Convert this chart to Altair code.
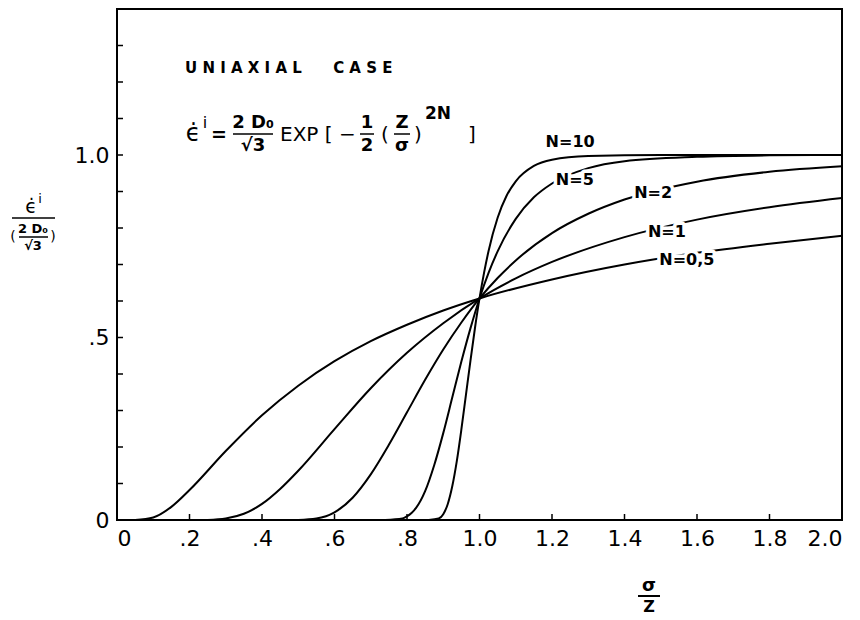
import altair as alt
import pandas as pd

FONT = "DejaVu Sans"

# ---- series (x = sigma/Z, y = normalised strain rate) ----
n_labels = ["N=0,5", "N=1", "N=2", "N=5", "N=10"]

x_n05 = [0.05, 0.1, 0.15, 0.2, 0.3, 0.4, 0.5, 0.6, 0.7, 0.8, 0.9, 1.0, 1.2, 1.4, 1.6, 1.8, 2.0]
y_n05 = [0.0, 0.007, 0.036, 0.082, 0.189, 0.287, 0.368, 0.435, 0.490, 0.535, 0.574, 0.607,
         0.659, 0.700, 0.732, 0.757, 0.779]

x_n1 = [0.25, 0.3, 0.35, 0.4, 0.45, 0.5, 0.6, 0.7, 0.8, 0.9, 1.0, 1.1, 1.2, 1.4, 1.6, 1.8, 2.0]
y_n1 = [0.0, 0.004, 0.017, 0.044, 0.085, 0.135, 0.249, 0.361, 0.458, 0.539, 0.607, 0.662,
        0.707, 0.775, 0.823, 0.857, 0.882]

x_n2 = [0.5, 0.55, 0.6, 0.65, 0.7, 0.75, 0.8, 0.85, 0.9, 0.95, 1.0, 1.05, 1.1, 1.2, 1.3,
        1.4, 1.6, 1.8, 2.0]
y_n2 = [0.0, 0.004, 0.021, 0.061, 0.125, 0.206, 0.295, 0.384, 0.467, 0.541, 0.607, 0.663,
        0.711, 0.786, 0.839, 0.878, 0.927, 0.954, 0.969]

x_n5 = [0.74, 0.7875, 0.8, 0.8125, 0.825, 0.85, 0.875, 0.9, 0.925, 0.95, 0.975, 1.0, 1.025,
        1.05, 1.1, 1.15, 1.2, 1.3, 1.4, 1.6, 1.8, 2.0]
y_n5 = [0.0, 0.004, 0.010, 0.019, 0.033, 0.079, 0.150, 0.238, 0.336, 0.434, 0.525, 0.607,
        0.677, 0.736, 0.825, 0.884, 0.922, 0.964, 0.983, 0.995, 0.999, 1.0]

x_n10 = [0.86, 0.8875, 0.9, 0.9125, 0.925, 0.9375, 0.95, 0.9625, 0.975, 0.9875, 1.0, 1.0125,
         1.025, 1.05, 1.075, 1.1, 1.15, 1.2, 1.3, 1.5, 2.0]
y_n10 = [0.0, 0.004, 0.016, 0.044, 0.093, 0.162, 0.248, 0.342, 0.436, 0.526, 0.607, 0.677,
         0.737, 0.828, 0.889, 0.928, 0.970, 0.987, 0.997, 1.0, 1.0]

series_x = [x_n05, x_n1, x_n2, x_n5, x_n10]
series_y = [y_n05, y_n1, y_n2, y_n5, y_n10]

# curve label anchor points (data units)
lab_x = [1.572, 1.517, 1.479, 1.263, 1.25]
lab_y = [0.712, 0.789, 0.896, 0.932, 1.036]

x_tick_labels = [0, 0.2, 0.4, 0.6, 0.8, 1.0, 1.2, 1.4, 1.6, 1.8, 2.0]
y_tick_labels = [0, 0.5, 1.0]
x_minor = [0.2, 0.4, 0.6, 0.8, 1.0, 1.2, 1.4, 1.6, 1.8]
y_minor = [0.1, 0.2, 0.3, 0.4, 0.5, 0.6, 0.7, 0.8, 0.9, 1.0, 1.1, 1.2, 1.3]

rows = []
for lab, xs_, ys_ in zip(n_labels, series_x, series_y):
    for a, b in zip(xs_, ys_):
        rows.append({"N": lab, "x": a, "y": b})
df = pd.DataFrame(rows)
lab_df = pd.DataFrame({"N": n_labels, "x": lab_x, "y": lab_y})

W, H = 725, 511
OX, OY = 117, 9  # page position of plot origin

xs = alt.Scale(domain=[0, 2], nice=False, zero=False)
ys = alt.Scale(domain=[0, 1.4], nice=False, zero=False)

label_expr = ("datum.value == 0 ? '0' : (datum.value < 1 ? "
              "replace(format(datum.value, '.1f'), '0.', '.') : format(datum.value, '.1f'))")

lines = alt.Chart(df).mark_line(color="black", strokeWidth=2, interpolate="monotone").encode(
    x=alt.X("x:Q", scale=xs, axis=alt.Axis(values=x_tick_labels, labelExpr=label_expr,
                                           ticks=False, domain=False, grid=False, title=None,
                                           labelFontSize=22, labelPadding=8, labelFont=FONT,
                                           labelColor="black")),
    y=alt.Y("y:Q", scale=ys, axis=alt.Axis(values=y_tick_labels, labelExpr=label_expr,
                                           ticks=False, domain=False, grid=False, title=None,
                                           labelFontSize=22, labelPadding=8, labelFont=FONT,
                                           labelColor="black")),
    detail="N:N",
    order="x:Q",
)

halo = alt.Chart(lab_df).mark_text(font=FONT, fontSize=16, fontWeight="bold", color="white",
                                   stroke="white", strokeWidth=7, strokeJoin="round").encode(
    x=alt.X("x:Q", scale=xs), y=alt.Y("y:Q", scale=ys), text="N:N")
labels = alt.Chart(lab_df).mark_text(font=FONT, fontSize=16, fontWeight="bold",
                                     color="black").encode(
    x=alt.X("x:Q", scale=xs), y=alt.Y("y:Q", scale=ys), text="N:N")

xt = alt.Chart(pd.DataFrame({"t": x_minor})).mark_rule(color="black", strokeWidth=1.5).encode(
    x=alt.X("t:Q", scale=xs), y=alt.value(H), y2=alt.value(H - 6))
yt = alt.Chart(pd.DataFrame({"t": y_minor})).mark_rule(color="black", strokeWidth=1.5).encode(
    y=alt.Y("t:Q", scale=ys), x=alt.value(0), x2=alt.value(6))

dummy = pd.DataFrame({"a": [0]})
NB = "\u00a0"


def txt(s, px, py, size, bold=False, align="center"):
    kw = dict(text=s, font=FONT, fontSize=size, color="black", align=align, baseline="middle")
    if bold:
        kw["fontWeight"] = "bold"
    return alt.Chart(dummy).mark_text(**kw).encode(x=alt.value(px - OX), y=alt.value(py - OY))


def bar(x1, x2, py, w=1.5):
    return alt.Chart(dummy).mark_rule(color="black", strokeWidth=w).encode(
        x=alt.value(x1 - OX), x2=alt.value(x2 - OX), y=alt.value(py - OY))


title_text = NB.join("UNIAXIAL") + NB * 6 + NB.join("CASE")
FY = 134  # main line of the formula

ann = [
    txt(title_text, 185, 68, 15, bold=True, align="left"),
    # formula
    txt("\u03f5\u0307", 193, FY, 24),
    txt("i", 205, FY - 11, 16),
    txt("=", 219, FY + 1, 19, bold=True),
    txt("2 D\u2080", 253, FY - 11, 18, bold=True),
    bar(233, 273, FY),
    txt("\u221a3", 253, FY + 12, 18, bold=True),
    txt("EXP" + NB + "[" + NB + "\u2212", 280, FY + 1, 20, align="left"),
    txt("1", 367, FY - 11, 18, bold=True),
    bar(360, 374, FY),
    txt("2", 367, FY + 12, 18, bold=True),
    txt("(", 385, FY + 1, 20),
    txt("Z", 402, FY - 11, 18, bold=True),
    bar(394, 410, FY),
    txt("\u03c3", 402, FY + 12, 18, bold=True),
    txt(")", 418, FY + 1, 20),
    txt("2N", 438, FY - 20, 17, bold=True),
    txt("]", 472, FY + 1, 20),
    # y axis title
    txt("\u03f5\u0307", 31, 207, 19),
    txt("i", 40, 199, 13),
    bar(12, 55, 218),
    txt("2 D\u2080", 33, 229, 13, bold=True),
    bar(19, 48, 237),
    txt("\u221a3", 33, 246, 13, bold=True),
    txt("(", 13, 237, 14),
    txt(")", 53, 237, 14),
    # x axis title
    txt("\u03c3", 649, 586, 18, bold=True),
    bar(638, 660, 596, 2),
    txt("Z", 649, 607, 16, bold=True),
]

chart = alt.layer(lines, halo, labels, xt, yt, *ann).properties(
    width=W, height=H,
    padding={"left": 109, "top": 1, "right": 10, "bottom": 100},
    autosize=alt.AutoSizeParams(type="none"),
    background="white",
).configure_view(stroke="black", strokeWidth=2)

chart.save("out.html", embed_options={"renderer": "svg", "actions": False})
